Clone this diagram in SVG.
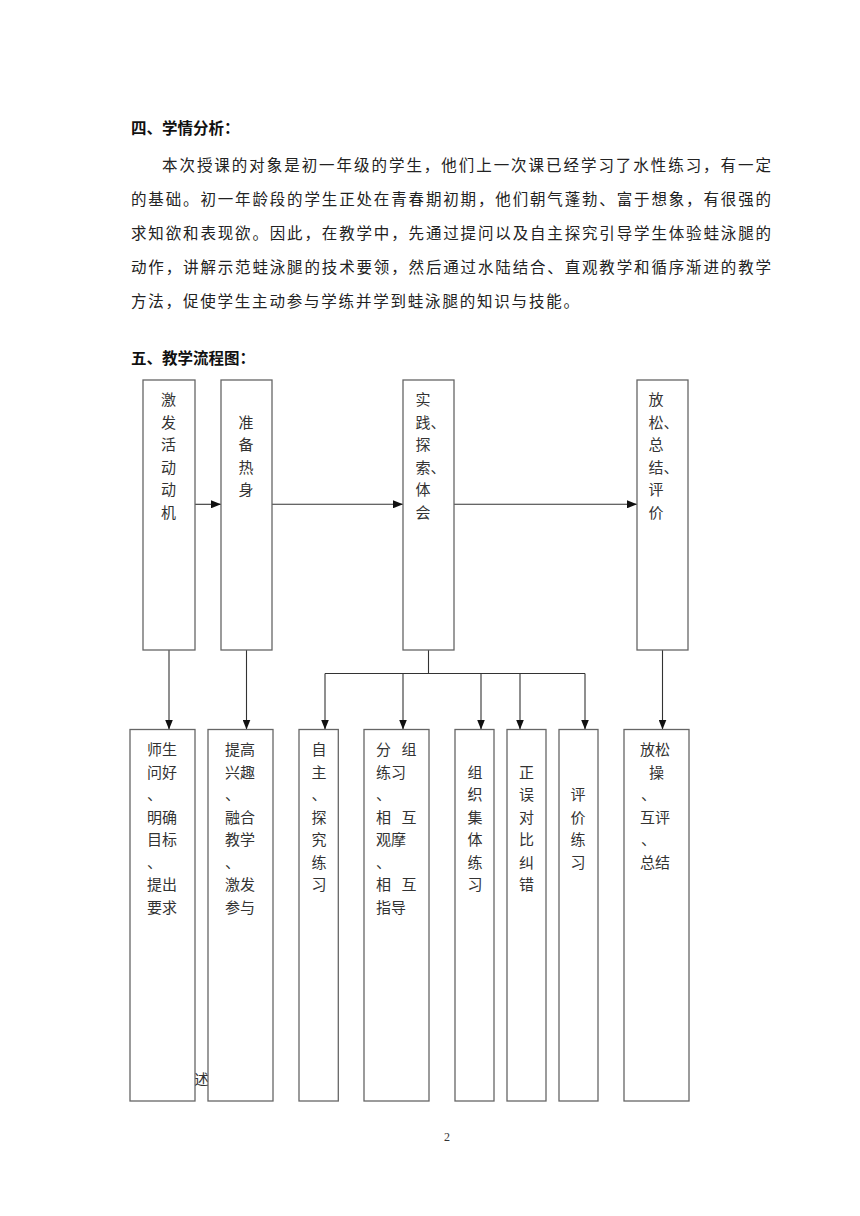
<svg xmlns="http://www.w3.org/2000/svg" width="860" height="1216" viewBox="0 0 860 1216">
<defs>
<style>
.h{font-family:"Noto Sans CJK SC","Liberation Sans",sans-serif;font-size:15.5px;font-weight:bold;fill:#111;dominant-baseline:central}
.p{font-family:"Noto Sans CJK SC","Liberation Sans",sans-serif;font-size:15.5px;fill:#222;dominant-baseline:central}
.t{font-family:"Noto Sans CJK SC","Liberation Sans",sans-serif;font-size:15px;fill:#333;dominant-baseline:central}
.box{fill:#fff;stroke:#666;stroke-width:1.3}
.ln{fill:none;stroke:#333;stroke-width:1.1}
.pg{font-family:"Liberation Serif",serif;font-size:12px;fill:#333;dominant-baseline:central}
</style>
<marker id="ah" markerUnits="userSpaceOnUse" markerWidth="10" markerHeight="8" refX="10" refY="4" orient="auto">
<path d="M0,0 L10,4 L0,8 z" fill="#111"/>
</marker>
</defs>
<rect width="860" height="1216" fill="#fff"/>

<g id="text">
<text class="h" x="131" y="127">四、学情分析：</text>
<text class="p" x="162" y="164" textLength="609" lengthAdjust="spacing">本次授课的对象是初一年级的学生，他们上一次课已经学习了水性练习，有一定</text>
<text class="p" x="131" y="198" textLength="640" lengthAdjust="spacing">的基础。初一年龄段的学生正处在青春期初期，他们朝气蓬勃、富于想象，有很强的</text>
<text class="p" x="131" y="232" textLength="640" lengthAdjust="spacing">求知欲和表现欲。因此，在教学中，先通过提问以及自主探究引导学生体验蛙泳腿的</text>
<text class="p" x="131" y="266" textLength="640" lengthAdjust="spacing">动作，讲解示范蛙泳腿的技术要领，然后通过水陆结合、直观教学和循序渐进的教学</text>
<text class="p" x="131" y="300" letter-spacing="1.8">方法，促使学生主动参与学练并学到蛙泳腿的知识与技能。</text>
<text class="h" x="131" y="357">五、教学流程图：</text>
<text class="t" x="194" y="1078">述</text>
<text class="pg" x="447" y="1137" text-anchor="middle">2</text>
</g>

<g id="connectors">
<line class="ln" x1="195" y1="504.3" x2="221" y2="504.3" marker-end="url(#ah)"/>
<line class="ln" x1="272" y1="504.3" x2="403" y2="504.3" marker-end="url(#ah)"/>
<line class="ln" x1="454" y1="504.3" x2="637" y2="504.3" marker-end="url(#ah)"/>
<line class="ln" x1="169" y1="650" x2="169" y2="729.5" marker-end="url(#ah)"/>
<line class="ln" x1="246.5" y1="650" x2="246.5" y2="729.5" marker-end="url(#ah)"/>
<line class="ln" x1="428.5" y1="650" x2="428.5" y2="673.5"/>
<line class="ln" x1="325" y1="673.5" x2="585" y2="673.5"/>
<line class="ln" x1="325" y1="673.5" x2="325" y2="729.5" marker-end="url(#ah)"/>
<line class="ln" x1="403" y1="673.5" x2="403" y2="729.5" marker-end="url(#ah)"/>
<line class="ln" x1="481" y1="673.5" x2="481" y2="729.5" marker-end="url(#ah)"/>
<line class="ln" x1="520" y1="673.5" x2="520" y2="729.5" marker-end="url(#ah)"/>
<line class="ln" x1="585" y1="673.5" x2="585" y2="729.5" marker-end="url(#ah)"/>
<line class="ln" x1="662.5" y1="650" x2="662.5" y2="729.5" marker-end="url(#ah)"/>
</g>

<g id="n1">
<rect class="box" x="143" y="380" width="52" height="270"/>
<text class="t"><tspan x="161" y="398">激</tspan><tspan x="161" y="420.6">发</tspan><tspan x="161" y="443.2">活</tspan><tspan x="161" y="465.8">动</tspan><tspan x="161" y="488.4">动</tspan><tspan x="161" y="511">机</tspan></text>
</g>
<g id="n2">
<rect class="box" x="221" y="380" width="51" height="270"/>
<text class="t"><tspan x="238.5" y="420.6">准</tspan><tspan x="238.5" y="443.2">备</tspan><tspan x="238.5" y="465.8">热</tspan><tspan x="238.5" y="488.4">身</tspan></text>
</g>
<g id="n3">
<rect class="box" x="403" y="380" width="51" height="270"/>
<text class="t"><tspan x="415.5" y="398">实</tspan><tspan x="415.5" y="420.6">践、</tspan><tspan x="415.5" y="443.2">探</tspan><tspan x="415.5" y="465.8">索、</tspan><tspan x="415.5" y="488.4">体</tspan><tspan x="415.5" y="511">会</tspan></text>
</g>
<g id="n4">
<rect class="box" x="637" y="380" width="51" height="270"/>
<text class="t"><tspan x="648.5" y="398">放</tspan><tspan x="648.5" y="420.6">松、</tspan><tspan x="648.5" y="443.2">总</tspan><tspan x="648.5" y="465.8">结、</tspan><tspan x="648.5" y="488.4">评</tspan><tspan x="648.5" y="511">价</tspan></text>
</g>

<g id="b1">
<rect class="box" x="130" y="729.5" width="65" height="371.5"/>
<text class="t"><tspan x="147" y="748">师生</tspan><tspan x="147" y="770.5">问好</tspan><tspan x="147" y="793">、</tspan><tspan x="147" y="815.5">明确</tspan><tspan x="147" y="838">目标</tspan><tspan x="147" y="860.5">、</tspan><tspan x="147" y="883">提出</tspan><tspan x="147" y="905.5">要求</tspan></text>
</g>
<g id="b2">
<rect class="box" x="208" y="729.5" width="65" height="371.5"/>
<text class="t"><tspan x="225" y="748">提高</tspan><tspan x="225" y="770.5">兴趣</tspan><tspan x="225" y="793">、</tspan><tspan x="225" y="815.5">融合</tspan><tspan x="225" y="838">教学</tspan><tspan x="225" y="860.5">、</tspan><tspan x="225" y="883">激发</tspan><tspan x="225" y="905.5">参与</tspan></text>
</g>
<g id="b3">
<rect class="box" x="299" y="729.5" width="39.3" height="371.5"/>
<text class="t"><tspan x="311.5" y="748">自</tspan><tspan x="311.5" y="770.5">主</tspan><tspan x="311.5" y="793">、</tspan><tspan x="311.5" y="815.5">探</tspan><tspan x="311.5" y="838">究</tspan><tspan x="311.5" y="860.5">练</tspan><tspan x="311.5" y="883">习</tspan></text>
</g>
<g id="b4">
<rect class="box" x="364" y="729.5" width="65" height="371.5"/>
<text class="t"><tspan x="376" y="748">分</tspan><tspan x="401.5" y="748">组</tspan><tspan x="376" y="770.5">练习</tspan><tspan x="376" y="793">、</tspan><tspan x="376" y="815.5">相</tspan><tspan x="401.5" y="815.5">互</tspan><tspan x="376" y="838">观摩</tspan><tspan x="376" y="860.5">、</tspan><tspan x="376" y="883">相</tspan><tspan x="401.5" y="883">互</tspan><tspan x="376" y="905.5">指导</tspan></text>
</g>
<g id="b5">
<rect class="box" x="455" y="729.5" width="39" height="371.5"/>
<text class="t"><tspan x="467.5" y="770.5">组</tspan><tspan x="467.5" y="793">织</tspan><tspan x="467.5" y="815.5">集</tspan><tspan x="467.5" y="838">体</tspan><tspan x="467.5" y="860.5">练</tspan><tspan x="467.5" y="883">习</tspan></text>
</g>
<g id="b6">
<rect class="box" x="507" y="729.5" width="39" height="371.5"/>
<text class="t"><tspan x="519" y="770.5">正</tspan><tspan x="519" y="793">误</tspan><tspan x="519" y="815.5">对</tspan><tspan x="519" y="838">比</tspan><tspan x="519" y="860.5">纠</tspan><tspan x="519" y="883">错</tspan></text>
</g>
<g id="b7">
<rect class="box" x="559" y="729.5" width="39" height="371.5"/>
<text class="t"><tspan x="570.5" y="793">评</tspan><tspan x="570.5" y="815.5">价</tspan><tspan x="570.5" y="838">练</tspan><tspan x="570.5" y="860.5">习</tspan></text>
</g>
<g id="b8">
<rect class="box" x="624" y="729.5" width="65" height="371.5"/>
<text class="t"><tspan x="640" y="748">放松</tspan><tspan x="649" y="770.5">操</tspan><tspan x="641" y="793">、</tspan><tspan x="640" y="815.5">互评</tspan><tspan x="641" y="838">、</tspan><tspan x="640" y="860.5">总结</tspan></text>
</g>
</svg>
